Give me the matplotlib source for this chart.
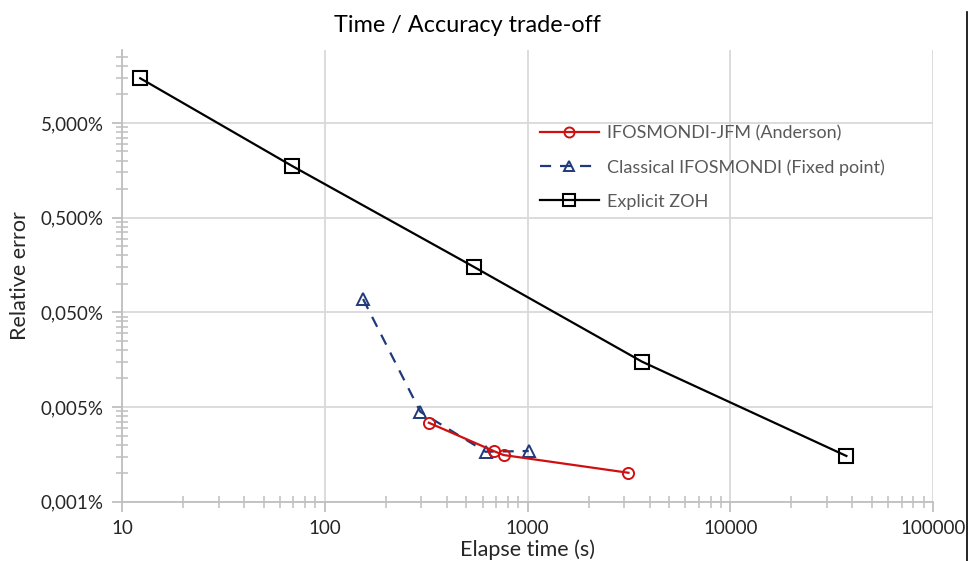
import matplotlib.pyplot as plt
from matplotlib.lines import Line2D
from matplotlib.ticker import FixedLocator, LogLocator, NullFormatter

plt.rcParams['font.family'] = ['Lato', 'DejaVu Sans']

# elapsed time (s) / relative error (%)
anderson_time = [326, 681, 762, 3148]
anderson_err = [0.00682, 0.00343, 0.00311, 0.00202]

fixed_point_time = [154.5, 296, 621, 1014]
fixed_point_err = [0.138, 0.00891, 0.00337, 0.00343]

zoh_time = [12.3, 68.7, 542, 3672, 37400]
zoh_err = [29.6, 3.53, 0.303, 0.0301, 0.00304]

y_ticks = [0.001, 0.01, 0.1, 1, 10]
y_tick_labels = ['0,001%', '0,005%', '0,050%', '0,500%', '5,000%']
x_ticks = [10, 100, 1000, 10000, 100000]
x_tick_labels = ['10', '100', '1000', '10000', '100000']

GRID = '#d9d9d9'
AXIS = '#bfbfbf'
TEXT = '#262626'

fig = plt.figure(figsize=(9.74, 5.61), dpi=100)
ax = fig.add_axes([122 / 974, 1 - 501.7 / 561, (933 - 122) / 974, (501.7 - 50) / 561])

ax.plot(anderson_time, anderson_err, color='#d01010', lw=1.6, marker='o',
        ms=8, mfc='none', mew=1.4, label='IFOSMONDI-JFM (Anderson)', zorder=4)
ax.plot(fixed_point_time, fixed_point_err, color='#1f3a7a', lw=1.6, ls=(0, (5, 4)),
        marker='^', ms=8, mfc='none', mew=1.4,
        label='Classical IFOSMONDI (Fixed point)', zorder=3)
ax.plot(zoh_time, zoh_err, color='black', lw=1.6, marker='s', ms=10,
        mfc='none', mew=1.5, label='Explicit ZOH', zorder=3)

ax.set_xscale('log')
ax.set_yscale('log')
ax.set_xlim(10, 100000)
ax.set_ylim(0.001, 10 ** ((501.7 - 50) / 94.7 - 3))

ax.xaxis.set_major_locator(FixedLocator(x_ticks))
ax.set_xticklabels(x_tick_labels)
ax.yaxis.set_major_locator(FixedLocator(y_ticks))
ax.set_yticklabels(y_tick_labels)
ax.xaxis.set_minor_locator(LogLocator(base=10, subs=range(2, 10)))
ax.yaxis.set_minor_locator(LogLocator(base=10, subs=range(2, 10)))
ax.xaxis.set_minor_formatter(NullFormatter())
ax.yaxis.set_minor_formatter(NullFormatter())

ax.grid(True, which='major', color=GRID, lw=1.3)
ax.set_axisbelow(True)
ax.tick_params(which='major', direction='out', length=7, width=1.3,
               color=AXIS, labelsize=13.5, labelcolor=TEXT, pad=6)
ax.tick_params(which='minor', direction='inout', length=9, width=1.1, color=AXIS)

for side in ['top', 'right']:
    ax.spines[side].set_visible(False)
for side in ['left', 'bottom']:
    ax.spines[side].set_color(AXIS)
    ax.spines[side].set_linewidth(1.3)

ax.set_xlabel('Elapse time (s)', fontsize=15.5, color=TEXT, labelpad=2)
ax.set_ylabel('Relative error', fontsize=15.5, color=TEXT, labelpad=8)
fig.text(467 / 974, 1 - 25 / 561, 'Time / Accuracy trade-off', fontsize=16.8,
         ha='center', va='center', color='black')

leg = ax.legend(loc='upper left', bbox_to_anchor=(0.515, 0.834), frameon=False,
                fontsize=13, labelcolor='#595959', handlelength=3.3,
                handletextpad=0.45, labelspacing=1.0, markerscale=0.9,
                borderpad=0, borderaxespad=0)

# edge of the chart frame on the right
fig.add_artist(Line2D([967 / 974, 967 / 974], [0, 1 - 12 / 561],
                      color='black', lw=1.2))

fig.savefig('out.png', dpi=100)
